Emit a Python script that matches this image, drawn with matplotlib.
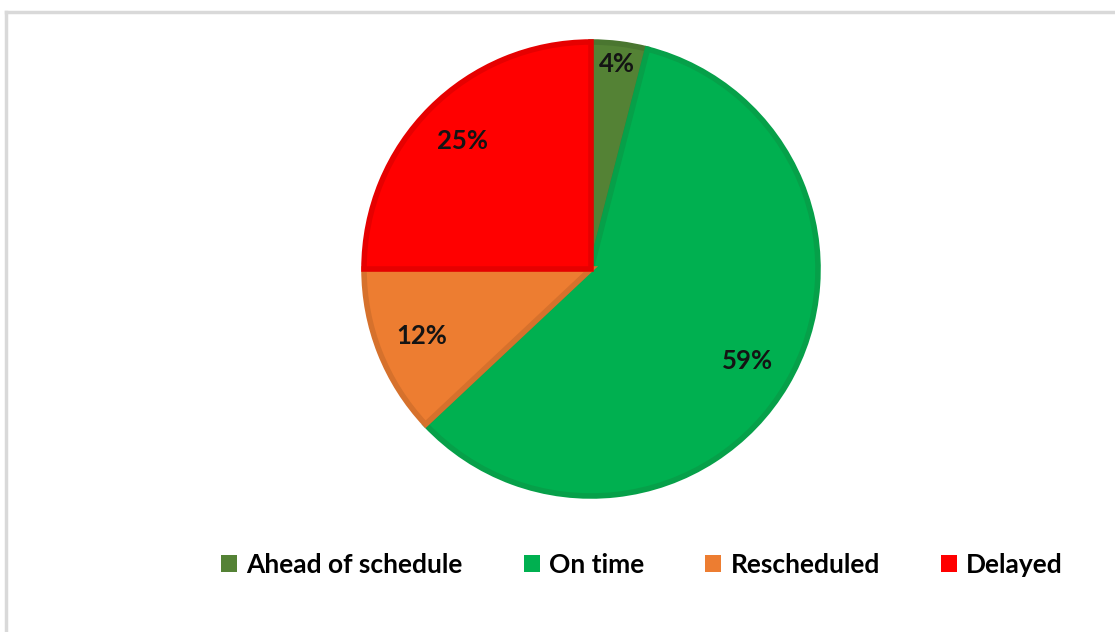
import numpy as np
import matplotlib
matplotlib.use('Agg')
import matplotlib.pyplot as plt
from matplotlib.lines import Line2D

plt.rcParams['font.family'] = ['Lato', 'DejaVu Sans']

# data
labels = ['Ahead of schedule', 'On time', 'Rescheduled', 'Delayed']
shares = [4, 59, 12, 25]
colors = ['#548235', '#00B050', '#ED7D31', '#FF0000']
edges = ['#4A7630', '#06A049', '#D6712C', '#E60000']

W, H = 1115, 632
fig = plt.figure(figsize=(W / 100, H / 100), dpi=100)

# pie centre (591, 269) px, radius 227 px
cx, cy, r = 591, 269, 227
ax = fig.add_axes([(cx - r) / W, (H - cy - r) / H, 2 * r / W, 2 * r / H])

wedges, texts, autotexts = ax.pie(
    shares, colors=colors, startangle=90, counterclock=False,
    autopct='%.0f%%', pctdistance=0.8,
    wedgeprops=dict(linewidth=4),
    textprops=dict(fontsize=18.5, fontweight='bold', color='#141414'))
for w, ec in zip(wedges, edges):
    w.set_edgecolor(ec)

# small slice label sits further out
t = autotexts[0]
ang = np.deg2rad(90 - shares[0] / 100 * 360 / 2)
t.set_position((0.91 * np.cos(ang), 0.91 * np.sin(ang)))

ax.set_xlim(-1, 1)
ax.set_ylim(-1, 1)
ax.set_aspect('equal')
ax.axis('off')

leg = fig.legend(wedges, labels, loc='center', bbox_to_anchor=(642 / W, 1 - 565 / H),
                 ncol=4, frameon=False, handlelength=0.62, handleheight=0.62,
                 handletextpad=0.35, columnspacing=2.3,
                 prop=dict(size=19, weight='bold'))
for h, c in zip(leg.legend_handles, colors):
    h.set_edgecolor(c)
    h.set_linewidth(0)

# chart area border (top and left visible)
fig.add_artist(Line2D([6 / W, 1], [1 - 12 / H, 1 - 12 / H], color='#D9D9D9', lw=2.5))
fig.add_artist(Line2D([6 / W, 6 / W], [0, 1 - 12 / H], color='#D9D9D9', lw=2.5))

fig.savefig('out.png', dpi=100, facecolor='white')
